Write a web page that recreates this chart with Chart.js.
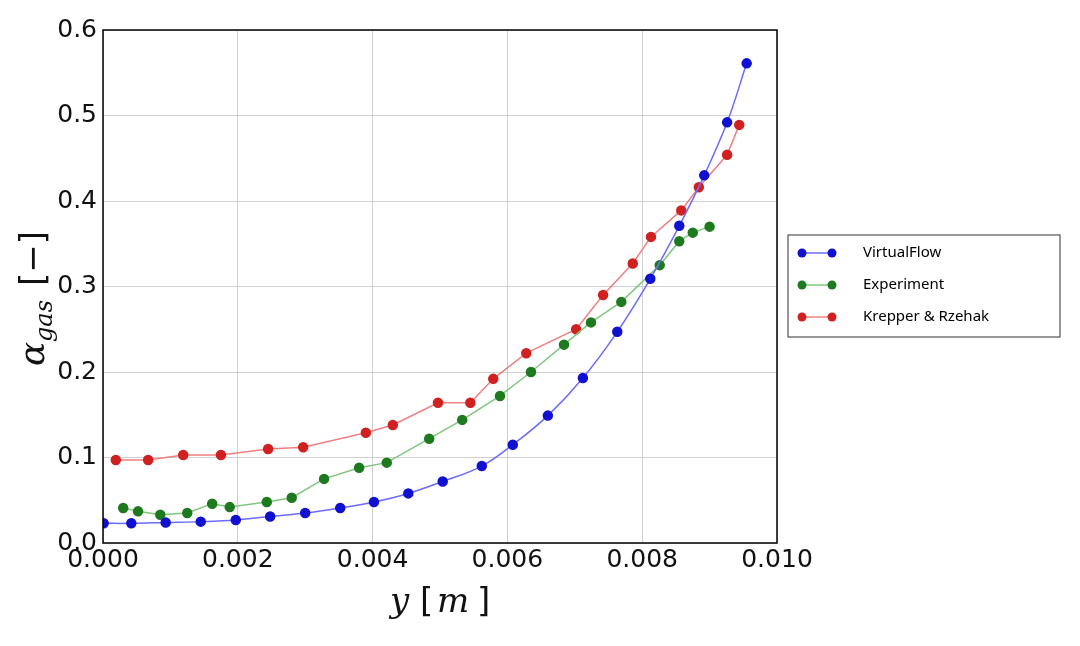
<!DOCTYPE html>
<html lang="en">
<head>
  <meta charset="UTF-8" />
  <title>Gas fraction profile</title>
  <script src="https://cdn.jsdelivr.net/npm/chart.js"></script>
  <style>
    body { margin: 0; background: #fff; }
    #wrap { width: 1080px; height: 646px; }
  </style>
</head>
<body>
  <div id="wrap"><canvas id="chart"></canvas></div>
  <script>
    const vfX = [0.00001, 0.00042, 0.00093, 0.00145, 0.00197, 0.00248, 0.0030, 0.00352, 0.00402, 0.00453, 0.00504, 0.00562, 0.00608, 0.0066, 0.00712, 0.00763, 0.00812, 0.00855, 0.00892, 0.00926, 0.00955];
    const vfY = [0.023, 0.023, 0.024, 0.025, 0.027, 0.031, 0.035, 0.041, 0.048, 0.058, 0.072, 0.090, 0.115, 0.149, 0.193, 0.247, 0.309, 0.371, 0.430, 0.492, 0.561];
    const expX = [0.0003, 0.00052, 0.00085, 0.00125, 0.00162, 0.00188, 0.00243, 0.0028, 0.00328, 0.0038, 0.00421, 0.00484, 0.00533, 0.00589, 0.00635, 0.00684, 0.00724, 0.00769, 0.00826, 0.00855, 0.00875, 0.0090];
    const expY = [0.041, 0.037, 0.033, 0.035, 0.046, 0.042, 0.048, 0.053, 0.075, 0.088, 0.094, 0.122, 0.144, 0.172, 0.200, 0.232, 0.258, 0.282, 0.325, 0.353, 0.363, 0.370];
    const krX = [0.00019, 0.00067, 0.00119, 0.00175, 0.00245, 0.00297, 0.0039, 0.0043, 0.00497, 0.00545, 0.00579, 0.00628, 0.00702, 0.00742, 0.00786, 0.00813, 0.00858, 0.00884, 0.00926, 0.00944];
    const krY = [0.097, 0.097, 0.103, 0.103, 0.110, 0.112, 0.129, 0.138, 0.164, 0.164, 0.192, 0.222, 0.250, 0.290, 0.327, 0.358, 0.389, 0.416, 0.454, 0.489];
    const seriesNames = ['VirtualFlow', 'Experiment', 'Krepper & Rzehak'];
    const xTicks = [0, 0.002, 0.004, 0.006, 0.008, 0.010];

    const pts = (xs, ys) => xs.map((x, i) => ({ x: x, y: ys[i] }));

    function ds(label, data, line, dot, tension) {
      return {
        label: label, data: data,
        borderColor: line, backgroundColor: dot,
        pointBackgroundColor: dot, pointBorderColor: dot,
        pointRadius: 4.5, borderWidth: 1.5, tension: tension
      };
    }

    const overlay = {
      id: 'overlay',
      afterDraw(chart) {
        const ctx = chart.ctx, a = chart.chartArea;
        ctx.save();
        ctx.strokeStyle = '#000'; ctx.lineWidth = 1.5;
        ctx.strokeRect(a.left, a.top, a.right - a.left, a.bottom - a.top);

        // legend box
        const lx = 788, ly = 235, lw = 272, lh = 102;
        ctx.fillStyle = '#fff';
        ctx.fillRect(lx, ly, lw, lh);
        ctx.strokeStyle = '#333'; ctx.lineWidth = 1;
        ctx.strokeRect(lx, ly, lw, lh);
        ctx.font = '15px "Noto Sans", sans-serif';
        ctx.textBaseline = 'middle';
        chart.data.datasets.forEach((d, i) => {
          const y = ly + 18 + i * 32;
          ctx.strokeStyle = d.borderColor; ctx.lineWidth = 1.5;
          ctx.beginPath(); ctx.moveTo(802, y); ctx.lineTo(832, y); ctx.stroke();
          ctx.fillStyle = d.pointBackgroundColor;
          [802, 832].forEach(px => { ctx.beginPath(); ctx.arc(px, y, 4.5, 0, Math.PI * 2); ctx.fill(); });
          ctx.fillStyle = '#000';
          ctx.fillText(d.label, 863, y);
        });

        // axis titles
        ctx.fillStyle = '#111';
        ctx.textBaseline = 'alphabetic';
        ctx.font = 'italic 34px "DejaVu Serif", serif';
        ctx.fillText('y', 390, 612);
        ctx.font = '34px "DejaVu Sans", sans-serif';
        ctx.fillText('[', 420, 612);
        ctx.font = 'italic 34px "DejaVu Serif", serif';
        ctx.fillText('m', 437, 612);
        ctx.font = '34px "DejaVu Sans", sans-serif';
        ctx.fillText(']', 477, 612);

        ctx.translate(44, 366); ctx.rotate(-Math.PI / 2);
        ctx.font = 'italic 36px "DejaVu Serif", serif';
        ctx.fillText('\u03B1', 0, 0);
        ctx.font = 'italic 24px "DejaVu Serif", serif';
        ctx.fillText('gas', 24, 8);
        ctx.font = '34px "DejaVu Sans", sans-serif';
        ctx.fillText('[\u2212]', 80, 0);
        ctx.restore();
      }
    };

    new Chart(document.getElementById('chart'), {
      type: 'line',
      data: {
        datasets: [
          ds(seriesNames[0], pts(vfX, vfY), '#6b6bff', '#1010d0', 0.4),
          ds(seriesNames[1], pts(expX, expY), '#7fc77f', '#1e7a1e', 0),
          ds(seriesNames[2], pts(krX, krY), '#f08080', '#d02020', 0)
        ]
      },
      options: {
        responsive: true,
        maintainAspectRatio: false,
        animation: false,
        layout: { padding: { left: 8, right: 303, top: 30, bottom: 3 } },
        plugins: { legend: { display: false }, tooltip: { enabled: false } },
        scales: {
          x: {
            type: 'linear', min: 0, max: 0.010,
            afterBuildTicks: s => { s.ticks = xTicks.map(v => ({ value: v })); },
            afterFit: s => { s.height = 100; },
            grid: { color: '#d0d0d0', drawTicks: false },
            border: { display: false },
            ticks: {
              color: '#111', padding: 2, maxRotation: 0,
              font: { family: 'DejaVu Sans', size: 25 },
              callback: v => v.toFixed(3)
            }
          },
          y: {
            min: 0, max: 0.6,
            afterFit: s => { s.width = 95; },
            grid: { color: '#d0d0d0', drawTicks: false },
            border: { display: false },
            ticks: {
              stepSize: 0.1, color: '#111', padding: 6,
              font: { family: 'DejaVu Sans', size: 25 },
              callback: v => v.toFixed(1)
            }
          }
        }
      },
      plugins: [overlay]
    });
  </script>
</body>
</html>
